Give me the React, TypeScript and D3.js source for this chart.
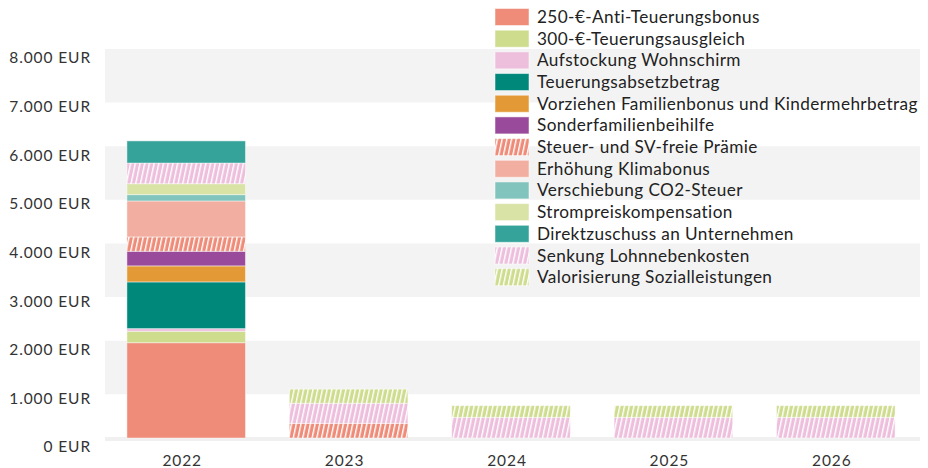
import React from "react";
import * as d3 from "d3";

// Jahre (x-Achse)
const years = ["2022", "2023", "2024", "2025", "2026"];

// Maßnahmen in Legendenreihenfolge
const seriesNames = [
  "250-€-Anti-Teuerungsbonus",
  "300-€-Teuerungsausgleich",
  "Aufstockung Wohnschirm",
  "Teuerungsabsetzbetrag",
  "Vorziehen Familienbonus und Kindermehrbetrag",
  "Sonderfamilienbeihilfe",
  "Steuer- und SV-freie Prämie",
  "Erhöhung Klimabonus",
  "Verschiebung CO2-Steuer",
  "Strompreiskompensation",
  "Direktzuschuss an Unternehmen",
  "Senkung Lohnnebenkosten",
  "Valorisierung Sozialleistungen",
];

const seriesColors = [
  "#ee8c79", "#cedc8e", "#edbfdd", "#00897b", "#e39a36", "#9a4a9a",
  "#ee8c79", "#f2aea1", "#80c4bd", "#d8e3a5", "#35a39a", "#edbfdd", "#cedc8e",
];

const seriesStriped = [
  false, false, false, false, false, false, true, false, false, false, false, true, true,
];

// Werte in EUR je Jahr (2022..2026), geschätzt aus der Grafik
const antiTeuerungsbonus = [1960, 0, 0, 0, 0];
const teuerungsausgleich = [235, 0, 0, 0, 0];
const wohnschirm = [55, 0, 0, 0, 0];
const teuerungsabsetzbetrag = [960, 0, 0, 0, 0];
const familienbonus = [330, 0, 0, 0, 0];
const sonderfamilienbeihilfe = [300, 0, 0, 0, 0];
const svFreiePraemie = [295, 300, 0, 0, 0];
const klimabonus = [740, 0, 0, 0, 0];
const co2Steuer = [130, 0, 0, 0, 0];
const strompreis = [225, 0, 0, 0, 0];
const direktzuschuss = [455, 0, 0, 0, 0];
const lohnnebenkosten = [425, 415, 425, 425, 425];
const valorisierung = [0, 290, 240, 240, 240];

const seriesValues = [
  antiTeuerungsbonus, teuerungsausgleich, wohnschirm, teuerungsabsetzbetrag,
  familienbonus, sonderfamilienbeihilfe, svFreiePraemie, klimabonus, co2Steuer,
  strompreis, direktzuschuss, lohnnebenkosten, valorisierung,
];

// Reihenfolge im Stapel, von unten nach oben
const stackOrder = [0, 1, 2, 3, 4, 5, 6, 7, 8, 9, 11, 10, 12];

const yTicks = [0, 1000, 2000, 3000, 4000, 5000, 6000, 7000, 8000];
const bandTops = [8000, 6000, 4000, 2000];

const W = 928;
const H = 468;

const App = () => {
  const x = d3.scaleBand<string>().domain(years).range([105, 917]).paddingInner(0.27).paddingOuter(0.135);
  const y = d3.scaleLinear().domain([0, 8000]).range([438, 49]);
  const fmt = (v: number) => d3.format(",")(v).replace(/,/g, ".") + " EUR";
  const font = "Lato, 'Noto Sans', sans-serif";

  const table = years.map((yr, i) => {
    const row: any = { year: yr };
    seriesNames.forEach((n, s) => (row[n] = seriesValues[s][i]));
    return row;
  });
  const stack = d3.stack<any>().keys(stackOrder.map((s) => seriesNames[s]));
  const layers = stack(table);

  const fillOf = (s: number) => (seriesStriped[s] ? `url(#stripe${s})` : seriesColors[s]);

  return (
    <svg width={W} height={H} style={{ position: "absolute", left: 0, top: 0, fontFamily: font }}>
      <defs>
        {seriesNames.map((_, s) =>
          seriesStriped[s] ? (
            <pattern key={s} id={`stripe${s}`} patternUnits="userSpaceOnUse" width={4.6} height={10}
              patternTransform="rotate(12)">
              <rect width={4.6} height={10} fill={seriesColors[s]} />
              <rect x={0} width={1.4} height={10} fill="#ffffff" />
            </pattern>
          ) : null
        )}
      </defs>
      <rect width={W} height={H} fill="#ffffff" />
      {bandTops.map((b) => (
        <rect key={b} x={105} width={815} y={y(b)} height={y(b - 1100) - y(b)} fill="#f3f3f3" />
      ))}
      <rect x={105} width={815} y={y(0) - 1} height={4} fill="#f0f0f0" />

      {yTicks.map((t) => (
        <text key={t} x={91} y={y(t) + 9} dy="0.35em" textAnchor="end" fontSize={15.5} letterSpacing={0.9}
          fill="#333">
          {fmt(t)}
        </text>
      ))}

      {layers.map((layer, li) => {
        const s = stackOrder[li];
        return (
          <g key={layer.key}>
            {layer.map((d, i) =>
              d[1] - d[0] > 0 ? (
                <rect key={i} x={x(years[i])} width={x.bandwidth()} y={y(d[1])} height={y(d[0]) - y(d[1])}
                  fill={fillOf(s)} stroke="#ffffff" strokeOpacity={0.45} strokeWidth={1} />
              ) : null
            )}
          </g>
        );
      })}

      {years.map((yr) => (
        <text key={yr} x={(x(yr) as number) + x.bandwidth() / 2 - 4} y={461} dy="0.35em" textAnchor="middle"
          fontSize={15.5} letterSpacing={0.9} fill="#333">
          {yr}
        </text>
      ))}

      <g transform="translate(495,0)">
        {seriesNames.map((n, s) => (
          <g key={n} transform={`translate(0,${17 + s * 21.68})`}>
            <rect x={0} y={-8.5} width={34} height={17} fill={fillOf(s)} stroke="#ffffff" strokeOpacity={0.5} />
            <text x={42} y={0} dy="0.35em" fontSize={17.2} letterSpacing={0.4} fill="#222">
              {n}
            </text>
          </g>
        ))}
      </g>
    </svg>
  );
};

export default App;
